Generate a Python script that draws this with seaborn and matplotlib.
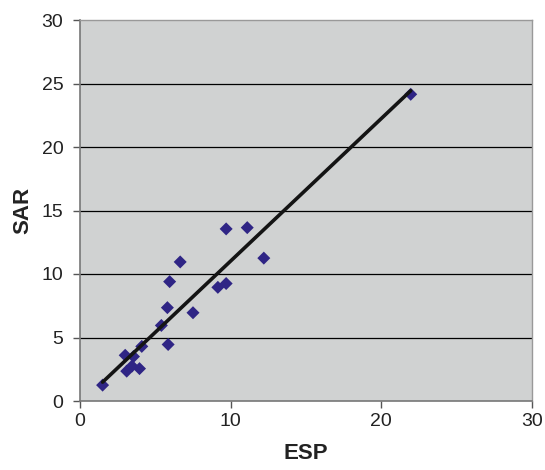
import matplotlib
matplotlib.use("Agg")
import matplotlib.pyplot as plt
import seaborn as sns
import numpy as np
import pandas as pd

esp = [1.5, 3.0, 3.1, 3.45, 3.55, 3.95, 4.1, 5.4, 5.85, 5.8, 5.95, 6.65, 7.5, 9.15, 9.7, 9.7, 11.1, 12.2, 21.95]
sar = [1.25, 3.6, 2.35, 2.75, 3.5, 2.55, 4.3, 5.95, 4.45, 7.35, 9.4, 10.95, 6.95, 8.95, 9.25, 13.55, 13.65, 11.25, 24.15]

df = pd.DataFrame({"ESP": esp, "SAR": sar})

sns.set_theme(style="white")
plt.rcParams['font.family'] = ['Liberation Sans', 'DejaVu Sans']

fig = plt.figure(figsize=(5.45, 4.7), dpi=100)
ax = fig.add_axes([80/545, 69/470, 452/545, 381/470])
ax.set_facecolor("#D0D2D2")

for v in [5, 10, 15, 20, 25]:
    ax.axhline(v, color="black", lw=0.9, zorder=0)

sns.regplot(data=df, x="ESP", y="SAR", ax=ax, ci=None, truncate=True,
            marker="D",
            scatter_kws=dict(color="#2F2585", s=44, edgecolor="none", zorder=3, alpha=1),
            line_kws=dict(color="#141414", lw=2.6, zorder=4))

ax.set_xlim(0, 30)
ax.set_ylim(0, 30)
ax.set_xticks([0, 10, 20, 30])
ax.set_yticks([0, 5, 10, 15, 20, 25, 30])
ax.tick_params(axis="both", labelsize=14, colors="#222222", length=5, width=1,
               direction="out", bottom=True, left=True)
ax.tick_params(axis="y", pad=7)
ax.tick_params(axis="x", pad=4)
for tl in ax.get_xticklabels() + ax.get_yticklabels():
    tl.set_color("#222222")
ax.set_xlabel("ESP", fontsize=16, fontweight="bold", color="#222222", labelpad=9)
ax.set_ylabel("SAR", fontsize=16, fontweight="bold", color="#222222", labelpad=6)
for s in ["left", "bottom"]:
    ax.spines[s].set_color("#777777")
    ax.spines[s].set_linewidth(1.2)
for s in ["right", "top"]:
    ax.spines[s].set_color("#999999")
    ax.spines[s].set_linewidth(1.0)
ax.tick_params(axis="both", color="#555555")

fig.savefig("out.png", dpi=100)
